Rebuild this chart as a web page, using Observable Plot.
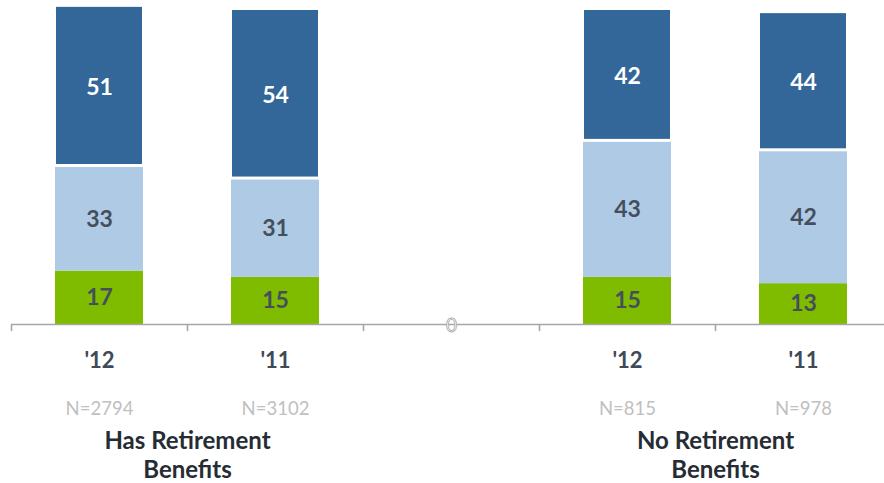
<!DOCTYPE html>
<html>
<head>
<meta charset="utf-8">
<script src="https://cdn.jsdelivr.net/npm/d3@7"></script>
<script src="https://cdn.jsdelivr.net/npm/@observablehq/plot@0.6"></script>
<style>
  html, body { margin: 0; padding: 0; background: #fff; }
  #chart svg { display: block; font-family: Lato, "Open Sans", sans-serif; }
</style>
</head>
<body>
<div id="chart"></div>
<script>
// Slots along the x axis (the middle slot is empty)
const slots = [0, 1, 2, 3, 4];
const yearLabels = ["'12", "'11", "", "'12", "'11"];
const sampleSizes = ["N=2794", "N=3102", "", "N=815", "N=978"];
const groupNames = ["Has Retirement\nBenefits", "No Retirement\nBenefits"];
const groupSlots = [[0, 1], [3, 4]];
const emptySlot = 2;
const emptySlotLabel = "0";

// Series (bottom to top)
const seriesNames = ["Bottom", "Middle", "Top"];
const seriesColors = ["#7fbc00", "#aecae5", "#336699"];
const bottomValues = [17, 15, null, 15, 13];
const middleValues = [33, 31, null, 43, 42];
const topValues    = [51, 54, null, 42, 44];

const seriesValues = [bottomValues, middleValues, topValues];
const rows = [];
slots.forEach((s, i) => {
  seriesNames.forEach((name, k) => {
    const v = seriesValues[k][i];
    if (v != null) rows.push({slot: s, series: name, value: v});
  });
});

const boundaries = slots.map(s => s - 0.5);
const half = 0.25;

const barOpts = () => Plot.stackY({
  x1: d => d.slot - half,
  x2: d => d.slot + half,
  y: "value",
  z: "series",
  fill: "series"
});

const groups = groupNames.map((g, i) => ({name: g, pos: d3.mean(groupSlots[i])}));

const chart = Plot.plot({
  width: 884,
  height: 483,
  marginTop: 10,
  marginBottom: 159,
  marginLeft: 11,
  marginRight: -7,
  style: {fontFamily: "Lato, 'Open Sans', sans-serif", background: "#fff"},
  x: {type: "linear", domain: [-0.5, 4.5], axis: null},
  y: {domain: [0, 100], axis: null},
  color: {domain: seriesNames, range: seriesColors},
  marks: [
    // lower two segments
    Plot.rectY(rows, {
      ...barOpts(),
      filter: d => d.series !== "Top"
    }),
    // top segment (slightly narrower, gap below)
    Plot.rectY(rows, {
      ...barOpts(),
      filter: d => d.series === "Top",
      insetLeft: 1, insetRight: 1, insetBottom: 3
    }),
    // value labels
    Plot.text(rows, Plot.stackY({
      x: "slot",
      y: "value",
      z: "series",
      text: d => String(d.value),
      fill: d => d.series === "Top" ? "#ffffff" : "#454f5c",
      fontSize: 23,
      fontWeight: "bold"
    })),
    // axis line
    Plot.ruleY([0], {stroke: "#a6a6a6", strokeWidth: 1.6}),
    // tick marks between slots
    Plot.axisX({
      anchor: "bottom",
      ticks: boundaries,
      tickSize: 7,
      tickFormat: () => "",
      stroke: "#a6a6a6",
      strokeWidth: 1.6
    }),
    // empty slot marker (outlined zero)
    Plot.text([emptySlot], {
      x: d => d, y: 0,
      text: () => emptySlotLabel,
      fill: "#ffffff",
      stroke: "#a6a6a6",
      strokeWidth: 0.8,
      paintOrder: "normal",
      fontSize: 19,
      fontWeight: "normal",
      dy: 1
    }),
    // year labels
    Plot.text(slots, {
      x: d => d, y: 0,
      text: d => yearLabels[d],
      lineAnchor: "bottom",
      dy: 43,
      fontSize: 22,
      fontWeight: "bold",
      fill: "#3f4a58"
    }),
    // sample sizes
    Plot.text(slots, {
      x: d => d, y: 0,
      text: d => sampleSizes[d],
      lineAnchor: "bottom",
      dy: 90,
      fontSize: 18.5,
      fill: "#c0c0c0"
    }),
    // group labels
    Plot.text(groups, {
      x: "pos", y: 0,
      text: "name",
      lineAnchor: "bottom",
      lineHeight: 1.2,
      dy: 153,
      fontSize: 24,
      fontWeight: "bold",
      fill: "#262c33"
    })
  ]
});

document.getElementById("chart").appendChild(chart);
</script>
</body>
</html>
